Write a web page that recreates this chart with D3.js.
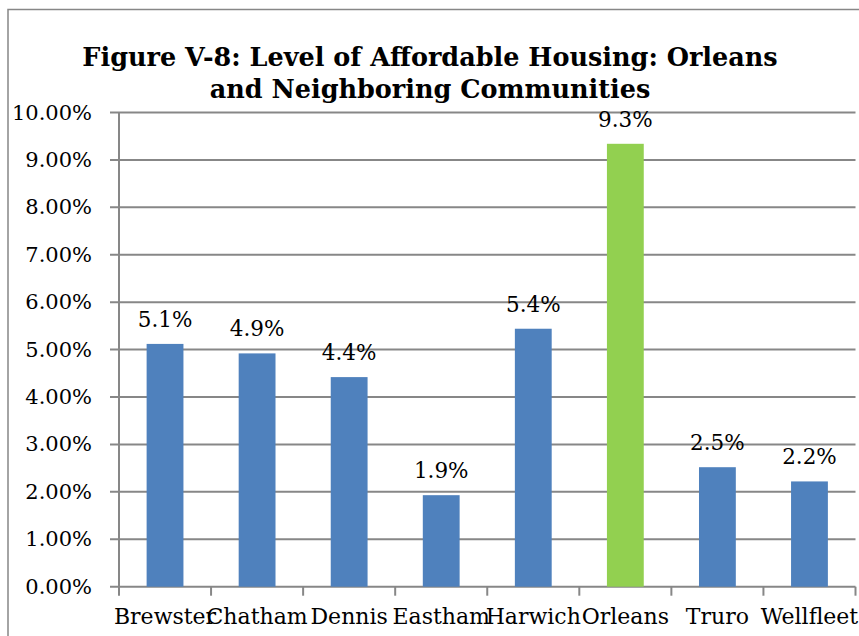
<!DOCTYPE html>
<html><head><meta charset="utf-8">
<script src="https://cdn.jsdelivr.net/npm/d3@7"></script>
<style>body{margin:0;background:#fff}svg{display:block}</style>
</head><body>
<script>
const categories = ["Brewster","Chatham","Dennis","Eastham","Harwich","Orleans","Truro","Wellfleet"];
const values = [0.0512,0.0492,0.0442,0.0193,0.0544,0.0934,0.0252,0.0222];
const labels = ["5.1%","4.9%","4.4%","1.9%","5.4%","9.3%","2.5%","2.2%"];
const highlight = "Orleans";
const yTicks = [0,0.01,0.02,0.03,0.04,0.05,0.06,0.07,0.08,0.09,0.10];
const titleLines = ["Figure V-8: Level of Affordable Housing: Orleans","and Neighboring Communities"];

const W=859,H=636;
const svg=d3.select("body").append("svg").attr("width",W).attr("height",H);
const font="'DejaVu Serif', serif";
const grid="#878787";

svg.append("rect").attr("x",8).attr("y",9.5).attr("width",900).attr("height",700)
  .attr("fill","none").attr("stroke",grid).attr("stroke-width",1.5);

const L=119,R=855.5,T=112.5,B=586.7;
const x=d3.scaleBand().domain(categories).range([L,R]).paddingInner(0.6).paddingOuter(0.3);
const xb=d3.scaleBand().domain(categories).range([L,R]);
const y=d3.scaleLinear().domain([0,0.10]).range([B,T]);

// gridlines
svg.append("g").selectAll("line").data(yTicks).join("line")
  .attr("x1",L-9).attr("x2",R).attr("y1",d=>y(d)).attr("y2",d=>y(d))
  .attr("stroke",grid).attr("stroke-width",2);

// y axis line
svg.append("line").attr("x1",L).attr("x2",L).attr("y1",T).attr("y2",B+9)
  .attr("stroke",grid).attr("stroke-width",2);

// x ticks at band boundaries
const bounds=categories.map(c=>xb(c)).concat([R]);
svg.append("g").selectAll("line").data(bounds.slice(1)).join("line")
  .attr("x1",d=>d).attr("x2",d=>d).attr("y1",B).attr("y2",B+9)
  .attr("stroke",grid).attr("stroke-width",2);

// y labels
svg.append("g").selectAll("text").data(yTicks).join("text")
  .attr("x",92).attr("y",d=>y(d)+7).attr("text-anchor","end")
  .attr("font-family",font).attr("font-size",21).attr("fill","#000")
  .text(d=>d3.format(".2%")(d));

// bars
svg.append("g").selectAll("rect").data(categories).join("rect")
  .attr("x",c=>x(c)).attr("width",x.bandwidth())
  .attr("y",(c,i)=>y(values[i])).attr("height",(c,i)=>B-y(values[i]))
  .attr("fill",c=>c===highlight?"#92D050":"#4F81BD");

// data labels
svg.append("g").selectAll("text").data(categories).join("text")
  .attr("x",c=>x(c)+x.bandwidth()/2).attr("y",(c,i)=>y(values[i])-17)
  .attr("text-anchor","middle").attr("font-family",font).attr("font-size",21.5)
  .text((c,i)=>labels[i]);

// category labels
svg.append("g").selectAll("text").data(categories).join("text")
  .attr("x",c=>xb(c)+xb.bandwidth()/2).attr("y",624)
  .attr("text-anchor","middle").attr("font-family",font).attr("font-size",22)
  .text(c=>c);

// title
svg.append("g").selectAll("text").data(titleLines).join("text")
  .attr("x",430).attr("y",(d,i)=>66+i*32).attr("text-anchor","middle")
  .attr("font-family",font).attr("font-weight","bold").attr("font-size",25.5)
  .text(d=>d);
</script>
</body></html>
